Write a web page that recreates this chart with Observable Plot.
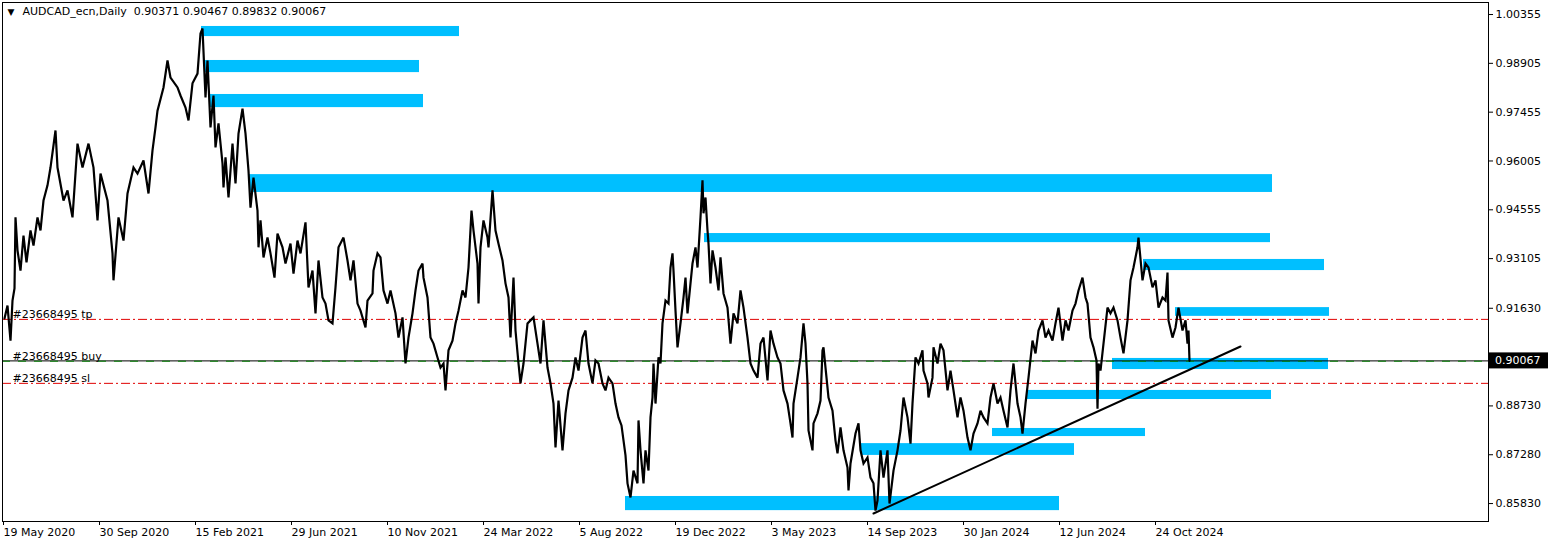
<!DOCTYPE html>
<html><head><meta charset="utf-8">
<script src="https://cdn.jsdelivr.net/npm/d3@7"></script>
<script src="https://cdn.jsdelivr.net/npm/@observablehq/plot@0.6"></script>
<style>body{margin:0;background:#fff} svg{display:block}</style>
</head><body><div id="chart"></div>
<script>
const titleText = "AUDCAD_ecn,Daily  0.90371 0.90467 0.89832 0.90067";
const dateLabels = ["19 May 2020","30 Sep 2020","15 Feb 2021","29 Jun 2021","10 Nov 2021","24 Mar 2022","5 Aug 2022","19 Dec 2022","3 May 2023","14 Sep 2023","30 Jan 2024","12 Jun 2024","24 Oct 2024"];
const dateBars = [0,96,192,288,384,480,576,672,768,864,960,1056,1152];
const priceTicks = [1.00355,0.98905,0.97455,0.96005,0.94555,0.93105,0.91630,0.88730,0.87280,0.85830];

const priceBars = [0,3,6,8,10,11,13,16,19,22,26,29,33,36,39,43,46,51,53,59,63,68,73,78,84,89,93,96,103,108,109,114,119,123,129,133,139,144,148,151,153,159,163,166,173,176,181,184,188,193,
196,198,201,203,206,209,211,214,218,219,221,224,228,231,234,238,241,244,246,249,253,254,256,259,263,266,270,273,278,281,286,289,293,296,301,304,308,311,314,318,321,324,328,331,334,339,343,346,349,353,356,361,363,368,369,373,
376,379,383,386,391,394,398,401,404,408,411,414,418,419,423,426,429,433,436,439,441,444,448,451,454,458,461,464,467,469,473,474,476,479,483,484,488,491,494,498,501,504,506,509,511,514,516,519,523,526,529,533,536,539,543,546,549,551,554,558,561,564,568,571,574,578,581,584,588,591,594,598,601,604,608,611,614,
617,621,623,626,629,633,634,636,639,641,644,646,648,649,651,654,656,658,661,664,666,668,669,671,673,676,679,681,683,686,688,691,693,696,698,699,701,703,704,706,708,711,714,716,719,723,726,729,733,736,739,743,746,749,753,756,759,763,766,769,773,776,779,783,786,788,789,793,796,799,801,803,804,808,809,813,816,818,819,821,824,828,831,833,836,839,843,844,
846,851,854,856,859,863,866,869,871,873,876,879,883,885,889,893,896,899,903,906,908,911,914,918,919,923,924,928,929,933,936,939,943,946,949,953,956,959,963,966,969,973,976,979,983,986,989,993,996,999,1003,1006,1009,1013,1016,1018,1021,1024,1028,1031,1034,1038,1041,1044,1048,1051,1054,1058,1061,1064,1068,1071,1074,
1078,1081,1083,1086,1089,1092,1093,1094,1096,1099,1103,1106,1109,1113,1116,1119,1123,1126,1129,1133,1134,1138,1141,1144,1148,1151,1154,1158,1161,1163,1164,1168,1171,1174,1178,1181,1183,1184,1185];

const priceValues = [0.9133,0.9171,0.9067,0.9186,0.9222,0.9433,0.9335,0.9275,0.9379,0.9299,0.9394,0.9349,0.9433,0.9394,0.9483,0.9528,0.9581,0.9691,0.9581,0.9483,0.9513,0.9433,0.9652,0.9581,0.9652,0.9581,0.9424,0.9563,0.9483,0.9326,0.9246,0.9433,0.9364,0.9504,0.9581,0.9563,0.9602,0.9504,0.9632,0.9700,0.9750,0.9819,0.9899,0.9848,0.9819,0.9795,0.9759,0.9721,0.9831,0.9860,
0.9979,0.9994,0.9789,0.9899,0.9700,0.9795,0.9641,0.9712,0.9593,0.9522,0.9611,0.9492,0.9652,0.9534,0.9682,0.9756,0.9682,0.9572,0.9462,0.9551,0.9453,0.9344,0.9424,0.9314,0.9373,0.9326,0.9254,0.9385,0.9344,0.9296,0.9355,0.9266,0.9364,0.9326,0.9418,0.9225,0.9275,0.9148,0.9305,0.9195,0.9177,0.9127,0.9118,0.9225,0.9344,0.9373,0.9305,0.9246,0.9305,0.9177,0.9156,0.9106,0.9186,0.9207,0.9275,0.9326,
0.9314,0.9216,0.9177,0.9216,0.9148,0.9076,0.9136,0.8999,0.9076,0.9148,0.9216,0.9275,0.9296,0.9254,0.9195,0.9076,0.9058,0.9017,0.8987,0.8999,0.8919,0.9038,0.9067,0.9118,0.9156,0.9216,0.9195,0.9284,0.9453,0.9394,0.9296,0.9177,0.9344,0.9424,0.9373,0.9344,0.9513,0.9394,0.9355,0.9305,0.9237,0.9195,0.9076,0.9254,0.9097,0.8999,0.8940,0.8999,0.9118,0.9127,0.9136,0.9058,0.8999,0.9127,0.8987,0.8940,0.8880,0.8750,0.8889,0.8741,0.8851,0.8919,0.8957,0.9017,0.8978,0.9076,0.9097,0.8999,0.8940,0.9008,0.8999,0.8940,0.8919,0.8957,0.8940,0.8880,0.8839,
0.8815,0.8726,0.8643,0.8601,0.8681,0.8643,0.8830,0.8741,0.8643,0.8741,0.8681,0.8839,0.8898,0.8999,0.8880,0.9017,0.8999,0.9118,0.9186,0.9177,0.9284,0.9326,0.9275,0.9156,0.9047,0.9118,0.9195,0.9254,0.9148,0.9237,0.9296,0.9344,0.9284,0.9433,0.9543,0.9445,0.9492,0.9394,0.9355,0.9237,0.9335,0.9284,0.9216,0.9314,0.9207,0.9165,0.9058,0.9148,0.9118,0.9216,0.9165,0.9076,0.8999,0.8978,0.8957,0.9058,0.9076,0.8949,0.9097,0.9058,0.9017,0.8999,0.8919,0.8880,0.8821,0.8779,0.8880,0.8957,0.9017,0.9118,0.9058,0.8940,0.8800,0.8741,0.8821,0.8851,0.8889,0.9038,0.9047,0.8987,0.8898,0.8859,0.8770,0.8732,0.8809,0.8741,0.8690,0.8622,
0.8702,0.8791,0.8821,0.8741,0.8702,0.8720,0.8660,0.8643,0.8562,0.8592,0.8741,0.8660,0.8741,0.8583,0.8681,0.8741,0.8800,0.8898,0.8839,0.8761,0.8880,0.9017,0.8999,0.9038,0.8978,0.8940,0.8898,0.8957,0.9047,0.8999,0.9058,0.9038,0.8919,0.8978,0.8919,0.8839,0.8898,0.8859,0.8779,0.8741,0.8791,0.8821,0.8859,0.8839,0.8821,0.8898,0.8940,0.8880,0.8898,0.8859,0.8809,0.8919,0.8999,0.8880,0.8839,0.8791,0.8880,0.8957,0.9067,0.9029,0.9097,0.9127,0.9076,0.9097,0.9067,0.9118,0.9165,0.9067,0.9127,0.9097,0.9156,0.9177,0.9216,
0.9254,0.9195,0.9177,0.9076,0.9047,0.9008,0.8865,0.8999,0.8978,0.9058,0.9165,0.9148,0.9165,0.9127,0.9076,0.9029,0.9127,0.9246,0.9284,0.9344,0.9373,0.9246,0.9296,0.9284,0.9225,0.9246,0.9165,0.9195,0.9186,0.9269,0.9127,0.9076,0.9106,0.9165,0.9097,0.9127,0.9058,0.9097,0.9007];

const zoneStart  = [197, 201, 205, 245, 700, 1139, 1171, 1108, 1022, 988, 857, 621];
const zoneEnd    = [455, 415, 419, 1268, 1266, 1320, 1325, 1324, 1267, 1141, 1070, 1055];
const zoneTop    = [1.0000, 0.9899, 0.9798, 0.9560, 0.9385, 0.9308, 0.9165, 0.9014, 0.8919, 0.8806, 0.8761, 0.8604];
const zoneBottom = [0.9970, 0.9863, 0.9759, 0.9507, 0.9358, 0.9275, 0.9139, 0.8981, 0.8892, 0.8782, 0.8726, 0.8562];

const trendBars = [869, 1236];
const trendPrices = [0.85535, 0.90495];

const orderLabels = ["#23668495 tp", "#23668495 buy", "#23668495 sl"];
const orderPrices = [0.9130, 0.90058, 0.8940];
const bidPrice = 0.90067;

const series = priceBars.map((b, i) => ({bar: b, price: priceValues[i]}));
const zones = zoneStart.map((s, i) => ({s, e: zoneEnd[i], t: zoneTop[i], b: zoneBottom[i]}));
const trend = trendBars.map((b, i) => ({bar: b, price: trendPrices[i]}));
const orders = orderLabels.map((l, i) => ({label: l, price: orderPrices[i]}));
const labelByBar = new Map(dateBars.map((b, i) => [b, dateLabels[i]]));

const plot = Plot.plot({
  width: 1552, height: 546,
  marginLeft: 2, marginTop: 2, marginRight: 64, marginBottom: 25,
  style: {fontFamily: "'DejaVu Sans', sans-serif", fontSize: "11px", background: "#fff", color: "#000"},
  x: {domain: [-2, 1484]},
  y: {domain: [0.85297, 1.00712]},
  marks: [
    Plot.rect(zones, {x1: "s", x2: "e", y1: "b", y2: "t", fill: "#00BFFF"}),
    Plot.ruleY([orderPrices[0], orderPrices[2]], {stroke: "#e00000", strokeWidth: 1, strokeDasharray: "9,3,2,3"}),
    Plot.ruleY([bidPrice], {stroke: "#000", strokeWidth: 1}),
    Plot.ruleY([orderPrices[1]], {stroke: "#008000", strokeWidth: 1, strokeDasharray: "8,8"}),
    Plot.line(series, {x: "bar", y: "price", stroke: "#000", strokeWidth: 2.2, strokeLinejoin: "miter", strokeMiterlimit: 3}),
    Plot.line(trend, {x: "bar", y: "price", stroke: "#000", strokeWidth: 2}),
    Plot.text(orders, {x: 8, y: "price", text: "label", textAnchor: "start", lineAnchor: "bottom", dy: -1, fill: "#000", fontSize: 11}),
    Plot.text(["▼"], {frameAnchor: "top-left", dx: 5, dy: 6, textAnchor: "start", lineAnchor: "top", fontSize: 9, fill: "#000"}),
    Plot.text([titleText], {frameAnchor: "top-left", dx: 20, dy: 5, textAnchor: "start", lineAnchor: "top", fontSize: 11, fill: "#000"}),
    Plot.frame({stroke: "#000"}),
    Plot.axisY({anchor: "right", ticks: priceTicks, tickFormat: d3.format(".5f"), tickSize: 4, tickPadding: 3, textAnchor: "start", stroke: "#000", fill: "#000"}),
    Plot.axisX({anchor: "bottom", ticks: dateBars, tickFormat: d => labelByBar.get(d), tickSize: 4, tickPadding: 3, textAnchor: "start", dx: -1, stroke: "#000", fill: "#000"})
  ]
});
document.getElementById("chart").appendChild(plot);

// current price label on the right axis
const yS = plot.scale("y");
const yb = yS.apply(bidPrice);
const svg = d3.select(plot);
svg.append("rect").attr("x", 1489).attr("y", yb - 8).attr("width", 59).attr("height", 16).attr("fill", "#000");
svg.append("text").attr("x", 1495).attr("y", yb).attr("dy", "0.35em").attr("text-anchor", "start")
  .attr("fill", "#fff").attr("font-family", "'DejaVu Sans', sans-serif").attr("font-size", 11).text(d3.format(".5f")(bidPrice));
</script>
</body></html>
